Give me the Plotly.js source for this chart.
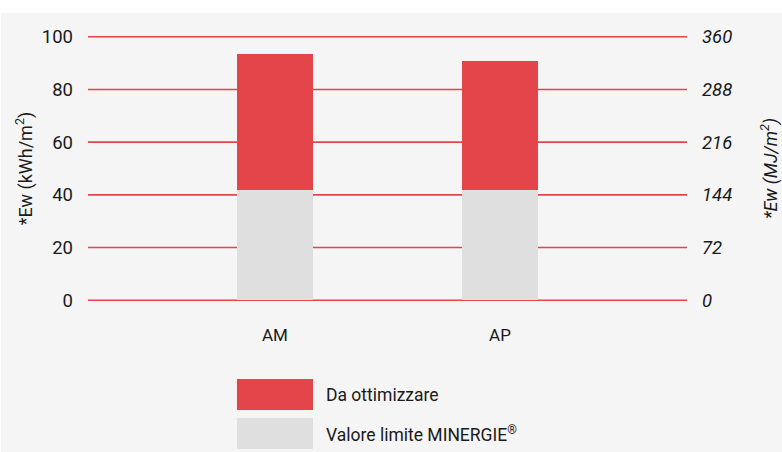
<!DOCTYPE html>
<html>
<head>
<meta charset="utf-8">
<script src="https://cdn.plot.ly/plotly-3.0.1.min.js"></script>
<style>
html,body{margin:0;padding:0;background:#ffffff;width:782px;height:452px;overflow:hidden;}
#chart{position:absolute;left:1px;top:13px;width:781px;height:439px;}
</style>
</head>
<body>
<div id="chart"></div>
<script>
const categories = ["AM", "AP"];
const limitValues = [42, 42];          // Valore limite MINERGIE®
const optimizeValues = [51.3, 49.0];   // Da ottimizzare (stacked above)
const leftTicks = [0, 20, 40, 60, 80, 100];
const rightTicks = [0, 72, 144, 216, 288, 360];
const seriesNames = ["Da ottimizzare", "Valore limite MINERGIE<sup>®</sup>"];

const RED = "#e3454a";
const GREY = "#dfdfdf";
const BG = "#f5f5f5";
const FONT = "Roboto, 'Liberation Sans', sans-serif";
const TXT = "#1a1a1a";

const W = 781, H = 439;
const M = {l: 87, r: 95, t: 23, b: 151};
const plotW = W - M.l - M.r, plotH = H - M.t - M.b;
const py = v => (H - M.b - v) / plotH; // div pixel y -> paper y

const traces = [
  {type: "bar", x: categories, y: limitValues, name: seriesNames[1],
   marker: {color: GREY}, width: 0.338, hoverinfo: "skip"},
  {type: "bar", x: categories, y: optimizeValues, name: seriesNames[0],
   marker: {color: RED}, width: 0.338, hoverinfo: "skip"},
  {type: "scatter", x: categories, y: [null, null], yaxis: "y2",
   showlegend: false, hoverinfo: "skip"}
];

// gridlines drawn on the left axis scale, below the bars
const gridShapes = leftTicks.map(v => ({
  type: "line", xref: "paper", yref: "y", x0: 0, x1: 1, y0: v, y1: v,
  line: {color: RED, width: 1.6}, layer: "below"
}));

const layout = {
  width: W, height: H,
  margin: M,
  barmode: "stack",
  showlegend: false,
  paper_bgcolor: BG,
  plot_bgcolor: BG,
  font: {family: FONT, size: 18, color: TXT},
  xaxis: {
    type: "category", range: [-0.831, 1.831],
    showgrid: false, zeroline: false, showline: false, ticks: "",
    ticklabelstandoff: 22, tickfont: {size: 17}
  },
  yaxis: {
    range: [-0.3, 100.3], tickvals: leftTicks, ticktext: leftTicks.map(String),
    showgrid: false, zeroline: false, showline: false, ticks: "",
    ticklabelstandoff: 14, tickfont: {size: 18.5},
    title: {text: "*Ew (kWh/m<sup>2</sup>)", font: {size: 18}, standoff: 4}
  },
  yaxis2: {
    overlaying: "y", side: "right", range: [-1.08, 361.08],
    tickvals: rightTicks, ticktext: rightTicks.map(String),
    showgrid: false, zeroline: false, showline: false, ticks: "",
    ticklabelstandoff: 14,
    tickfont: {family: FONT, size: 18.5, style: "italic"},
    title: {text: "<i>*Ew (MJ/m<sup>2</sup>)</i>", font: {size: 18}, standoff: 37}
  },
  shapes: gridShapes.concat([
    {type: "rect", xref: "x", yref: "paper", x0: -0.169, x1: 0.169,
     y0: py(397), y1: py(366), fillcolor: RED, line: {width: 0}},
    {type: "rect", xref: "x", yref: "paper", x0: -0.169, x1: 0.169,
     y0: py(436), y1: py(405), fillcolor: GREY, line: {width: 0}}
  ]),
  annotations: [
    {xref: "paper", yref: "paper", x: (323 - M.l) / plotW, y: py(381.5),
     xanchor: "left", yanchor: "middle", showarrow: false,
     text: seriesNames[0], font: {size: 17.5}},
    {xref: "paper", yref: "paper", x: (323 - M.l) / plotW, y: py(420.5),
     xanchor: "left", yanchor: "middle", showarrow: false,
     text: seriesNames[1], font: {size: 17.5}}
  ]
};

Plotly.newPlot("chart", traces, layout, {displayModeBar: false, staticPlot: true});
</script>
</body>
</html>
